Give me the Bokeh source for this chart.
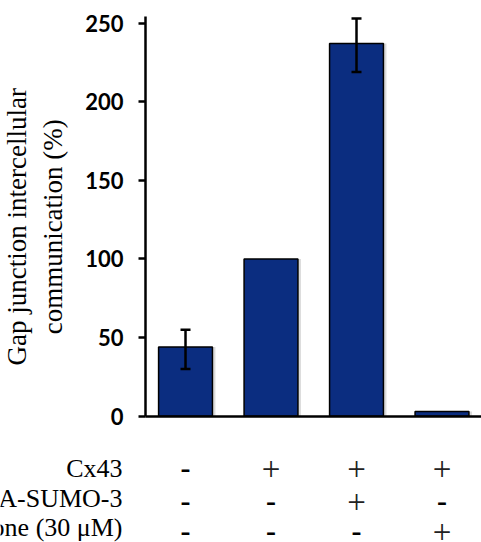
import math
from bokeh.plotting import figure
from bokeh.models import (ColumnDataSource, Whisker, TeeHead, Label, Range1d,
                          FixedTicker, LinearAxis)
from bokeh.transform import dodge
from bokeh.embed import file_html
from bokeh.resources import INLINE

# ---- data ----
conditions = [0, 1, 2, 3]
gjic_values = [44, 100, 237, 3]
err_x = [0, 2]
err_lower = [30, 219]
err_upper = [55, 253]
y_ticks = [0, 50, 100, 150, 200, 250]
row_labels = ["Cx43", "HA-SUMO-3", "Carbenoxolone (30 \u03bcM)"]
row_signs = [
    ["-", "+", "+", "+"],
    ["-", "-", "+", "-"],
    ["-", "-", "-", "+"],
]
y_label_lines = ["Gap junction intercellular", "communication (%)"]

# ---- layout constants ----
AXIS_X = -0.468
X_END = 3.462
Y_TOP = 254.5
ROW_Y = [-33.3, -52.4, -70.9]
SIGN_Y = [-33.3, -54.3, -73.6]
LABEL_X = -0.737
YLAB_X = [-1.975, -1.555]
YLAB_Y = 120.5
SERIF = "Liberation Serif"

p = figure(width=481, height=542,
           x_range=Range1d(-2.164, X_END), y_range=Range1d(-80.3, 264.4),
           x_axis_type=None, y_axis_type=None,
           output_backend="svg", toolbar_location=None,
           min_border=0, min_border_left=0, min_border_right=0,
           min_border_top=0, min_border_bottom=0)
p.outline_line_color = None
p.background_fill_color = "white"
p.border_fill_color = "white"

src = ColumnDataSource(dict(x=conditions, top=gjic_values))

# soft shadow to the right of bars
p.vbar(x=dodge("x", 0.035, range=p.x_range), top="top", width=0.63, source=src,
       fill_color="#bdbdbd", fill_alpha=0.55, line_color=None)
p.vbar(x="x", top="top", width=0.63, source=src,
       fill_color="#0b2d80", line_color="black", line_width=1.5)

esrc = ColumnDataSource(dict(x=err_x, lower=err_lower, upper=err_upper))
p.add_layout(Whisker(base="x", lower="lower", upper="upper", source=esrc,
                     level="overlay",
                     line_color="black", line_width=2.5,
                     upper_head=TeeHead(size=10, line_width=2.5, line_color="black"),
                     lower_head=TeeHead(size=10, line_width=2.5, line_color="black")))

# y axis, fixed at the left edge of the bar area
ya = LinearAxis(fixed_location=AXIS_X, bounds=(0, Y_TOP))
ya.ticker = FixedTicker(ticks=y_ticks)
ya.axis_line_width = 2.5
ya.axis_line_color = "black"
ya.major_tick_line_width = 2.5
ya.major_tick_in = 0
ya.major_tick_out = 7
ya.minor_tick_line_color = None
ya.major_label_standoff = 15
ya.major_label_text_font = "Lato"
ya.major_label_text_font_style = "bold"
ya.major_label_text_font_size = "22px"
ya.major_label_text_color = "black"
p.add_layout(ya, "left")

# x axis: baseline only
xa = LinearAxis(fixed_location=0, bounds=(AXIS_X, X_END))
xa.ticker = FixedTicker(ticks=[])
xa.axis_line_width = 2.5
xa.axis_line_color = "black"
xa.major_tick_line_color = None
xa.minor_tick_line_color = None
xa.major_label_text_font_size = "0px"
p.add_layout(xa, "below")

# y axis title, two rotated lines
for xl, txt in zip(YLAB_X, y_label_lines):
    p.add_layout(Label(x=xl, y=YLAB_Y, text=txt, angle=math.pi / 2,
                       text_align="center", text_baseline="alphabetic",
                       text_font=SERIF, text_font_size="27px", text_color="black"))

# condition table
for ry, sy, lab, signs in zip(ROW_Y, SIGN_Y, row_labels, row_signs):
    p.add_layout(Label(x=LABEL_X, y=ry, text=lab, text_align="right",
                       text_baseline="alphabetic", text_font=SERIF,
                       text_font_size="26px", text_color="black"))
    for cx, s in zip(conditions, signs):
        if s == "+":
            p.add_layout(Label(x=cx, y=sy, text=s, text_align="center",
                               text_baseline="alphabetic", text_font=SERIF,
                               text_font_size="33px", text_color="#222222"))
        else:
            p.add_layout(Label(x=cx, y=sy, text=s, text_align="center",
                               text_baseline="alphabetic", text_font=SERIF,
                               text_font_style="bold",
                               text_font_size="30px", text_color="black"))

open("out.html", "w").write(file_html(p, INLINE))
